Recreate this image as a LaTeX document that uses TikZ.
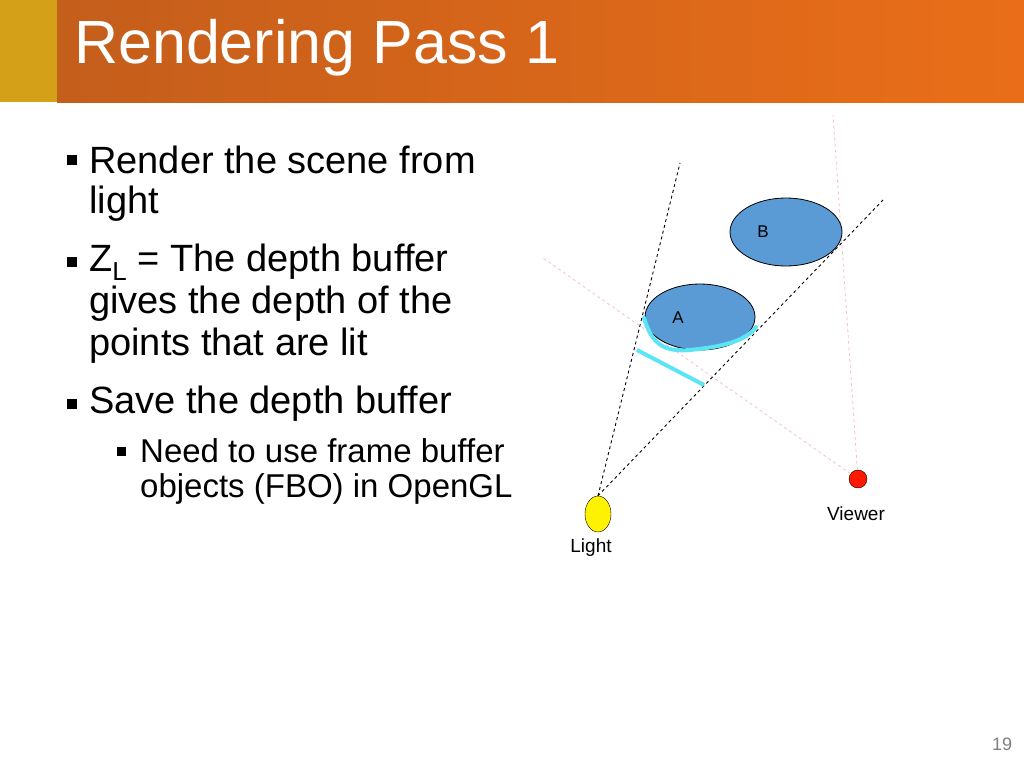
\documentclass[tikz,border=0pt]{standalone}
\usepackage{fontspec}
\setmainfont{Liberation Sans}
\usetikzlibrary{positioning,shapes.geometric}
\definecolor{gold}{HTML}{D4A017}
\definecolor{orangeL}{HTML}{C45E1B}
\definecolor{orangeR}{HTML}{EA6E19}
\definecolor{blob}{HTML}{5B9BD5}
\definecolor{cyanish}{HTML}{5CE6F5}
\definecolor{pinkish}{HTML}{F2C4C4}
\tikzset{
  blobby/.style={ellipse,draw,fill=blob,line width=0.8pt,font=\fontsize{17}{20}\selectfont},
  lbl/.style={font=\fontsize{19}{22}\selectfont},
  bul/.style={anchor=west,font=\fontsize{38}{46}\selectfont,inner sep=0pt},
  subbul/.style={anchor=west,font=\fontsize{33}{40}\selectfont,inner sep=0pt},
  sq/.style={fill=black,minimum size=10pt,inner sep=0pt},
  ray/.style={dashed,line width=0.9pt},
  sight/.style={dashed,pinkish,line width=0.8pt},
}
\begin{document}
\begin{tikzpicture}[x=1pt,y=-1pt]
  \useasboundingbox (0,0) rectangle (1024,768);
  \fill[white] (0,0) rectangle (1024,768);
  \shade[left color=orangeL,right color=orangeR] (57,0) rectangle (1024,102);
  \fill[gold] (0,0) rectangle (57,102);
  \node[anchor=west,white,inner sep=0pt,font=\fontsize{61}{70}\selectfont] (title) at (74,48) {Rendering Pass 1};

  % bullets
  \node[sq] (s1) at (72,160) {};
  \node[bul] (t1) at (89,160) {Render the scene from};
  \node[bul] (t1b) at (89,204) {light};
  \node[sq] (s2) at (72,262) {};
  \node[bul] (t2) at (89,262) {Z\raisebox{-0.25em}{\fontsize{26}{30}\selectfont L} = The depth buffer};
  \node[bul] (t2b) at (89,304) {gives the depth of the};
  \node[bul] (t2c) at (89,346) {points that are lit};
  \node[sq] (s3) at (72,404) {};
  \node[bul] (t3) at (89,404) {Save the depth buffer};
  \node[sq,minimum size=9pt] (s4) at (121,451) {};
  \node[subbul] (t4) at (140,451) {Need to use frame buffer};
  \node[subbul] (t4b) at (140,489) {objects (FBO) in OpenGL};

  % scene
  \coordinate (rayL) at (680,163);
  \coordinate (rayR) at (883,200);
  \coordinate (eyeL) at (543,258);
  \coordinate (eyeU) at (833,115);
  \node[draw,fill=yellow,ellipse,minimum width=26pt,minimum height=36pt,inner sep=0pt] (light) at (598,514) {};
  \node[draw,fill=red!80!orange,circle,minimum size=18pt,inner sep=0pt] (viewer) at (858,479) {};
  \node[lbl] (lightlbl) at (591,548) {Light};
  \node[lbl] (viewerlbl) at (856,514) {Viewer};
  \draw[sight] (viewer) -- (eyeL);
  \draw[sight] (viewer) -- (eyeU);
  \node[blobby,minimum width=112pt,minimum height=68pt] (B) at (786,232) {};
  \node[blobby,minimum width=110pt,minimum height=66pt] (A) at (700,317) {};
  \node[font=\fontsize{17}{20}\selectfont] (Blbl) at (763,232) {B};
  \node[font=\fontsize{17}{20}\selectfont] (Albl) at (678,318) {A};
  \draw[ray] (light.north) -- (rayL);
  \draw[ray] (light.north) -- (rayR);
  \draw[cyanish,line width=4pt] (637,350) -- (704,385);
  \draw[cyanish,line width=4pt,line cap=round] (644,318) .. controls (652,345) and (665,352) .. (690,350) .. controls (720,347) and (745,342) .. (756,327);
  \node[gray,font=\fontsize{18}{20}\selectfont] (page) at (1002,744) {19};
\end{tikzpicture}
\end{document}
